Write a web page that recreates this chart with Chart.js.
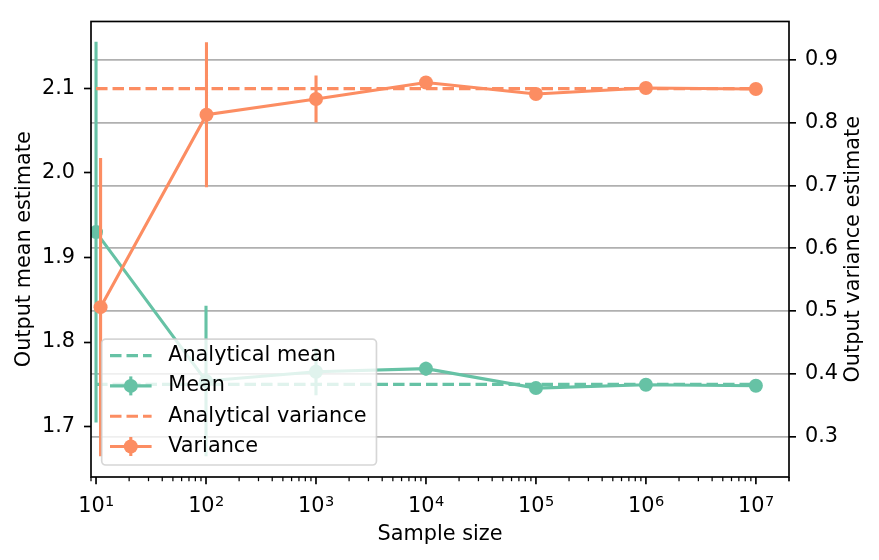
<!DOCTYPE html>
<html>
<head>
<meta charset="utf-8">
<script src="https://cdn.jsdelivr.net/npm/chart.js@4.4.0/dist/chart.umd.min.js"></script>
<style>
  html, body { margin: 0; padding: 0; background: #fff; }
  #wrap { width: 879px; height: 560px; }
</style>
</head>
<body>
<div id="wrap"><canvas id="myChart" width="879" height="560"></canvas></div>
<script>
// sample sizes (x) - variance points sit slightly to the right in the picture
const sampleSizes = [1e1, 1e2, 1e3, 1e4, 1e5, 1e6, 1e7];
const varianceSizes = [11, 101, 1001, 10001, 100001, 1000001, 10000001];

const meanValues = [1.930, 1.754, 1.765, 1.7686, 1.7456, 1.7496, 1.7484];
const meanErrors = [0.225, 0.089, 0.028, 0.008, 0.002, 0.001, 0.0005];
const varianceValues = [0.506, 0.8124, 0.8376, 0.8638, 0.8455, 0.855, 0.8534];
const varianceErrors = [0.2375, 0.1155, 0.0373, 0.005, 0.002, 0.001, 0.0005];

const analyticalMean = 1.75;
const analyticalVariance = 0.854;

const meanTicks = [1.7, 1.8, 1.9, 2.0, 2.1];
const varianceTicks = [0.3, 0.4, 0.5, 0.6, 0.7, 0.8, 0.9];
const xPowers = [1, 2, 3, 4, 5, 6, 7];

const green = '#66c2a5';
const orange = '#fc8d62';
const lw = 3.1;
const fontSize = 20.8;
const supSize = 14.6;

Chart.defaults.font.family = "'DejaVu Sans', sans-serif";
Chart.defaults.font.size = fontSize;
Chart.defaults.color = '#000';

// vertical bars as line segments broken by null points
function errorBarPoints(xs, ys, es) {
    let pts = [];
    xs.forEach((x, i) => {
        pts.push({x: x, y: ys[i] - es[i]});
        pts.push({x: x, y: ys[i] + es[i]});
        pts.push({x: x, y: null});
    });
    return pts;
}

function xyPoints(xs, ys) {
    return xs.map((x, i) => ({x: x, y: ys[i]}));
}

// log axis: major/minor tick marks and 10^n labels with a real superscript
const xTicksPlugin = {
    id: 'xTicks',
    afterDraw(chart) {
        const ctx = chart.ctx;
        const scale = chart.scales.x;
        const bottom = chart.chartArea.bottom;
        ctx.save();
        ctx.strokeStyle = '#000';
        ctx.fillStyle = '#000';
        scale.ticks.forEach(t => {
            const px = scale.getPixelForValue(t.value);
            ctx.lineWidth = t.major ? 1.67 : 1.25;
            ctx.beginPath();
            ctx.moveTo(px, bottom);
            ctx.lineTo(px, bottom + (t.major ? 7.3 : 4.2));
            ctx.stroke();
            if (t.major) {
                const exp = String(t.power);
                ctx.font = fontSize + "px 'DejaVu Sans'";
                const w1 = ctx.measureText('10').width;
                ctx.font = supSize + "px 'DejaVu Sans'";
                const w2 = ctx.measureText(exp).width;
                const x0 = px - (w1 + w2) / 2;
                const base = bottom + 35;
                ctx.textAlign = 'left';
                ctx.textBaseline = 'alphabetic';
                ctx.font = fontSize + "px 'DejaVu Sans'";
                ctx.fillText('10', x0, base);
                ctx.font = supSize + "px 'DejaVu Sans'";
                ctx.fillText(exp, x0 + w1 + 0.5, base - 6);
            }
        });
        ctx.restore();
    }
};

const framePlugin = {
    id: 'frame',
    afterDraw(chart) {
        const a = chart.chartArea;
        const ctx = chart.ctx;
        ctx.save();
        ctx.strokeStyle = '#000';
        ctx.lineWidth = 1.67;
        ctx.strokeRect(a.left, a.top, a.right - a.left, a.bottom - a.top);
        // right axis title, reading bottom to top like the left one
        const s = chart.scales.y2;
        ctx.translate(s.left + 70, (a.top + a.bottom) / 2);
        ctx.rotate(-Math.PI / 2);
        ctx.font = fontSize + "px 'DejaVu Sans'";
        ctx.fillStyle = '#000';
        ctx.textAlign = 'center';
        ctx.textBaseline = 'alphabetic';
        ctx.fillText('Output variance estimate', 0, 0);
        ctx.restore();
    }
};

const insideLegend = {
    id: 'insideLegend',
    afterDraw(chart) {
        const ctx = chart.ctx;
        const a = chart.chartArea;
        const items = chart.data.datasets.filter(d => d.inLegend);
        ctx.save();
        ctx.font = fontSize + "px 'DejaVu Sans'";
        const textW = Math.max(...items.map(d => ctx.measureText(d.label).width));
        const rowH = 30.3, padTop = 16.5, padBottom = 18.5;
        const h = padTop + rowH * (items.length - 1) + padBottom;
        const w = 8.3 + 41.6 + 16.6 + textW + 10;
        const x0 = a.left + 10.7;
        const y0 = a.bottom - 12 - h;
        ctx.beginPath();
        ctx.roundRect(x0, y0, w, h, 4);
        ctx.fillStyle = 'rgba(255,255,255,0.8)';
        ctx.fill();
        ctx.strokeStyle = 'rgba(204,204,204,0.8)';
        ctx.lineWidth = 1.67;
        ctx.stroke();
        items.forEach((d, i) => {
            const cy = y0 + padTop + i * rowH;
            const hx0 = x0 + 8.3, hx1 = hx0 + 41.6, cx = (hx0 + hx1) / 2;
            ctx.strokeStyle = d.borderColor;
            ctx.lineWidth = d.borderWidth;
            ctx.setLineDash(d.borderDash || []);
            ctx.beginPath();
            ctx.moveTo(hx0, cy);
            ctx.lineTo(hx1, cy);
            ctx.stroke();
            ctx.setLineDash([]);
            if (d.pointRadius > 0) {
                ctx.beginPath();
                ctx.moveTo(cx, cy - 9.5);
                ctx.lineTo(cx, cy + 9.5);
                ctx.stroke();
                ctx.beginPath();
                ctx.arc(cx, cy, d.pointRadius, 0, Math.PI * 2);
                ctx.fillStyle = d.borderColor;
                ctx.fill();
            }
            ctx.fillStyle = '#000';
            ctx.textAlign = 'left';
            ctx.textBaseline = 'middle';
            ctx.fillText(d.label, hx1 + 16.6, cy);
        });
        ctx.restore();
    }
};

const ctx = document.getElementById('myChart').getContext('2d');
const myChart = new Chart(ctx, {
    type: 'line',
    data: {
        datasets: [
            {
                label: 'Analytical mean',
                data: xyPoints(sampleSizes, sampleSizes.map(() => analyticalMean)),
                yAxisID: 'y',
                borderColor: green,
                borderDash: [11.5, 5],
                borderWidth: lw,
                pointRadius: 0,
                order: 5,
                inLegend: true
            },
            {
                label: 'Mean error',
                data: errorBarPoints(sampleSizes, meanValues, meanErrors),
                yAxisID: 'y',
                borderColor: green,
                borderWidth: lw,
                pointRadius: 0,
                spanGaps: false,
                order: 4
            },
            {
                label: 'Mean',
                data: xyPoints(sampleSizes, meanValues),
                yAxisID: 'y',
                borderColor: green,
                backgroundColor: green,
                pointBackgroundColor: green,
                borderWidth: lw,
                pointRadius: 7,
                pointBorderWidth: 0,
                order: 3,
                inLegend: true
            },
            {
                label: 'Analytical variance',
                data: xyPoints(sampleSizes, sampleSizes.map(() => analyticalVariance)),
                yAxisID: 'y2',
                borderColor: orange,
                borderDash: [11.5, 5],
                borderWidth: lw,
                pointRadius: 0,
                order: 2,
                inLegend: true
            },
            {
                label: 'Variance error',
                data: errorBarPoints(varianceSizes, varianceValues, varianceErrors),
                yAxisID: 'y2',
                borderColor: orange,
                borderWidth: lw,
                pointRadius: 0,
                spanGaps: false,
                order: 1
            },
            {
                label: 'Variance',
                data: xyPoints(varianceSizes, varianceValues),
                yAxisID: 'y2',
                borderColor: orange,
                backgroundColor: orange,
                pointBackgroundColor: orange,
                borderWidth: lw,
                pointRadius: 7,
                pointBorderWidth: 0,
                order: 0,
                inLegend: true
            }
        ]
    },
    options: {
        responsive: false,
        animation: false,
        devicePixelRatio: 1,
        layout: {padding: {top: 15, left: 0, right: 0, bottom: 0}},
        plugins: {
            legend: {display: false},
            tooltip: {enabled: false}
        },
        scales: {
            x: {
                type: 'logarithmic',
                position: 'bottom',
                min: 9,
                max: 2e7,
                bounds: 'data',
                afterBuildTicks(scale) {
                    let ticks = [];
                    for (let p = 0; p <= 7; p++) {
                        for (let m = 1; m <= 9; m++) {
                            const v = m * Math.pow(10, p);
                            if (v >= 9 && v <= 2e7) {
                                ticks.push({value: v, major: m === 1 && xPowers.includes(p), power: p});
                            }
                        }
                    }
                    ticks.push({value: 2e7, major: false});
                    scale.ticks = ticks;
                },
                afterFit(scale) { scale.height = 83; },
                ticks: {
                    autoSkip: false,
                    maxRotation: 0,
                    minRotation: 0,
                    callback: () => ''
                },
                grid: {drawOnChartArea: false, tickLength: 7, tickColor: 'rgba(0,0,0,0)'},
                border: {display: false},
                title: {display: true, text: 'Sample size', padding: {top: 0, bottom: 12.5}}
            },
            y: {
                type: 'linear',
                position: 'left',
                min: 1.6405,
                max: 2.179,
                afterBuildTicks(scale) { scale.ticks = meanTicks.map(v => ({value: v})); },
                afterFit(scale) { scale.width = 91; },
                ticks: {padding: 9, callback: v => v.toFixed(1)},
                grid: {drawOnChartArea: false, tickLength: 7, tickColor: '#000', tickWidth: 1.67},
                border: {display: false},
                title: {display: true, text: 'Output mean estimate', padding: {top: 12, bottom: 0}}
            },
            y2: {
                type: 'linear',
                position: 'right',
                min: 0.2355,
                max: 0.961,
                afterBuildTicks(scale) { scale.ticks = varianceTicks.map(v => ({value: v})); },
                afterFit(scale) { scale.width = 90; },
                ticks: {padding: 9, callback: v => v.toFixed(1)},
                grid: {
                    drawOnChartArea: true,
                    color: '#b0b0b0',
                    lineWidth: 1.67,
                    tickLength: 7,
                    tickColor: '#000',
                    tickWidth: 1.67
                },
                border: {display: false}
            }
        }
    },
    plugins: [xTicksPlugin, framePlugin, insideLegend]
});
</script>
</body>
</html>
